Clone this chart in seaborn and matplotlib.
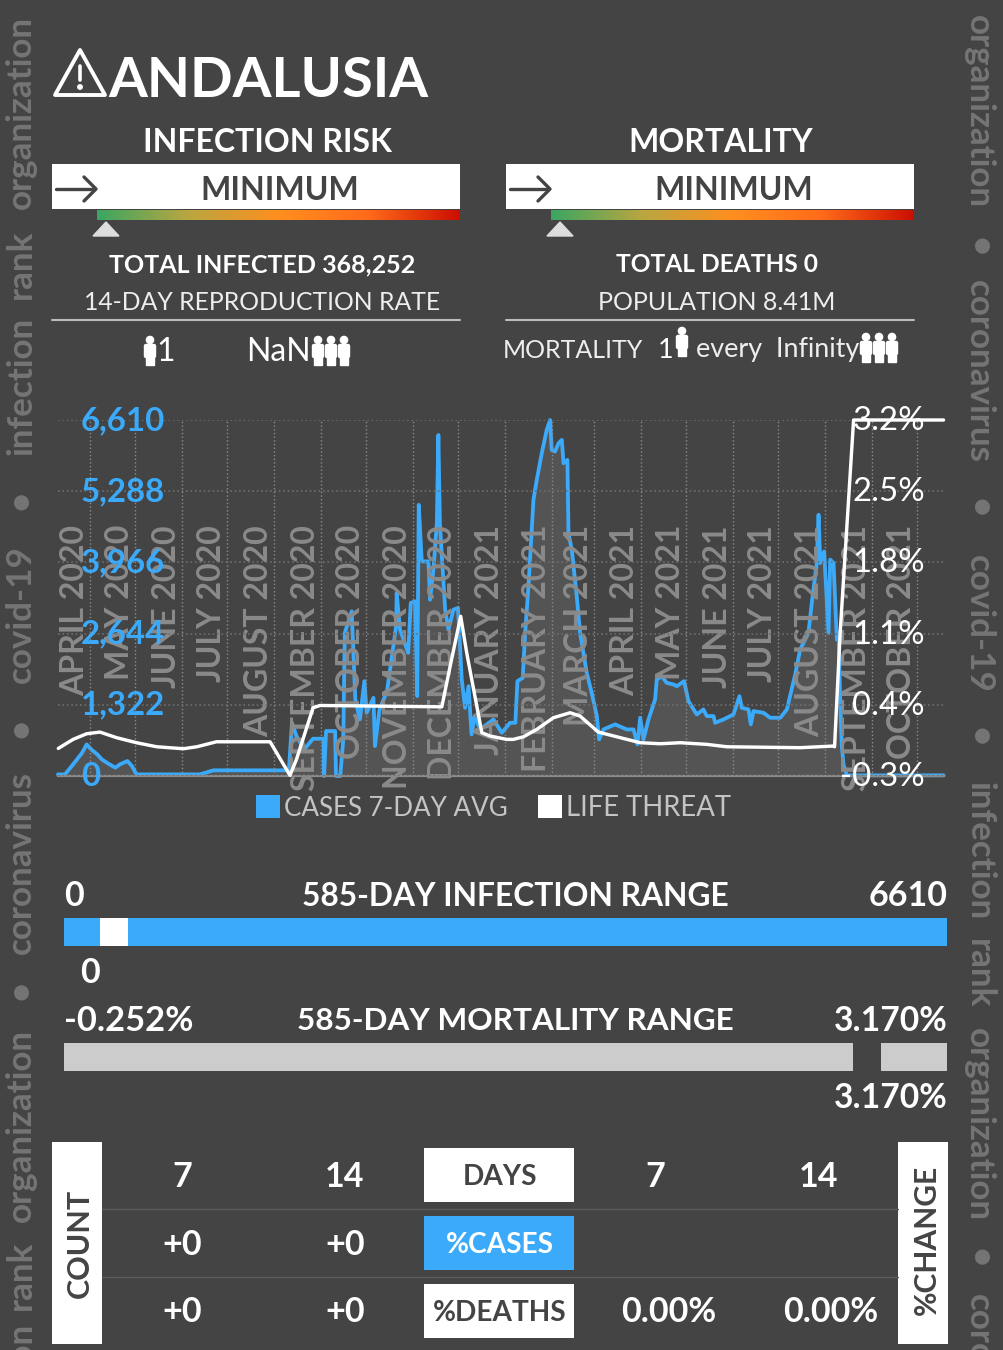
import numpy as np
import pandas as pd
import matplotlib
matplotlib.use("Agg")
import matplotlib.pyplot as plt
from matplotlib.patches import Rectangle, Polygon, Circle, FancyBboxPatch
from matplotlib.colors import LinearSegmentedColormap
from matplotlib.transforms import ScaledTranslation
import seaborn as sns

BG = "#444444"
BLUE = "#3baafa"
FONT = ["Lato", "DejaVu Sans"]

start_date = "2020-03-11"
case_days = [0,4.6,10,16,19,22,26,29,33,38,41,46,49,52,94,103,153,155,158,163,169,176,176.3,177.6,183.6,184.2,187,189,190,194.6,197,200,203,204.5,209,210,213,218,224,224.4,226.6,232,233.7,236.6,238,239,241,245.4,246.5,248.7,251,252,253,256.5,258.7,262,265,267.5,269.7,272,274,276,279.7,288.5,294,299.5,303,304.4,307.9,309.5,311.7,315,317.2,320.5,323.8,326,327.1,329.3,331.6,333.8,334.9,337.5,338.2,340.4,343.7,345.9,350.3,353.6,357,358.5,361.4,369.1,376.8,381.3,383.9,385.7,387.9,391.2,395.6,396.7,400,403.3,407.8,410,414.8,417.7,423.2,427.6,429.9,434.3,435.4,440.9,447.5,451.5,453,457.5,459,460.8,467.4,471.8,478.5,482.9,488.4,491.7,497.2,499.4,502.7,503.9,505,507.6,510.5,511.6,513.8,516,517.1,518.2,519.3,520.4,522.6,586.7]
case_vals = [30,30,216,432,587,494,402,309,235,154,216,278,185,30,30,105,105,988,741,494,692,692,0,834,834,0,0,680,2657,3058,1421,1050,1761,1174,1452,556,1236,1575,2780,3398,2718,2286,3213,3243,1483,5035,3985,3985,3274,3830,4695,6332,4695,3089,2718,3089,3120,1792,1266,1668,772,1112,865,1050,803,988,988,1761,1823,2657,3521,5128,5498,5993,6425,6610,6054,6024,6178,6240,5807,5869,4510,4201,3336,2657,1915,1545,1112,680,865,958,865,865,587,1081,680,1050,1421,1792,1853,1730,1699,1668,1761,1390,1143,1236,1112,1112,988,1050,1143,1483,1266,1236,958,1205,1174,1081,1081,1236,1884,2348,2657,3213,3954,4850,3954,4170,2657,4016,3954,2533,2657,1421,556,216,12,12]
threat_days = [0.2,10,19,27.8,38.9,52,65.4,83,92,105,140.5,153.7,158,169,173.6,254.3,259.8,266.8,270.8,280.8,286.3,297.3,301.7,308.4,317.2,328.2,339.3,345.9,358,370.2,385.7,399,412.2,429.9,443.1,491.7,513.8,514.5,518.2,527.1,586.7]
threat_vals = [0.013,0.100,0.154,0.170,0.116,0.068,0.029,0.010,0.029,0.077,0.077,-0.246,-0.092,0.404,0.426,0.413,0.803,1.283,0.931,0.164,0.132,0.100,0.100,0.125,0.196,0.308,0.356,0.324,0.170,0.125,0.068,0.058,0.068,0.052,0.029,0.020,0.036,0.029,1.123,3.170,3.170]
month_labels = ["APRIL 2020","MAY 2020","JUNE 2020","JULY 2020","AUGUST 2020","SEPTEMBER 2020","OCTOBER 2020","NOVEMBER 2020","DECEMBER 2020","JANUARY 2021","FEBRUARY 2021","MARCH 2021","APRIL 2021","MAY 2021","JUNE 2021","JULY 2021","AUGUST 2021","SEPTEMBER 2021","OCTOBER 2021"]
left_ticks = [0, 1322, 2644, 3966, 5288, 6610]
left_labels = ["0", "1,322", "2,644", "3,966", "5,288", "6,610"]
right_ticks = [-0.252, 0.432, 1.117, 1.801, 2.486, 3.170]
right_labels = ["-0.3%", "0.4%", "1.1%", "1.8%", "2.5%", "3.2%"]

sns.set_theme(style="dark", rc={"axes.facecolor": "none", "figure.facecolor": BG, "savefig.facecolor": BG})
plt.rcParams["font.family"] = FONT

W, H = 1004, 1350
fig = plt.figure(figsize=(W / 100, H / 100), dpi=100)
bg = fig.add_axes([0, 0, 1, 1], zorder=0)
bg.set_xlim(0, W); bg.set_ylim(H, 0); bg.axis("off")


def px(v):
    return v * 0.72


def T(x, y, s, size, color="white", ha="center", weight="bold", rot=0, **kw):
    return bg.text(x, y, s, fontsize=px(size), color=color, ha=ha, va="center",
                   fontweight=weight, rotation=rot, **kw)


def R(x0, y0, x1, y1, color, **kw):
    bg.add_patch(Rectangle((x0, y0), x1 - x0, y1 - y0, facecolor=color, edgecolor="none", **kw))


# side watermarks
WM = "#757575"
for yc, s in [(112, "organization"), (264, "rank"), (386, "infection"), (500, "•"), (614, "covid-19"),
              (728, "•"), (863, "coronavirus"), (990, "•"), (1125, "organization"), (1275, "rank"), (1392, "infection")]:
    T(21, yc, s, 35, WM, rot=90, clip_on=True)
for yc, s in [(112, "organization"), (247, "•"), (371, "coronavirus"), (508, "•"), (624, "covid-19"), (737, "•"),
              (851, "infection"), (974, "rank"), (1125, "organization"), (1258, "•"), (1385, "coronavirus")]:
    T(979, yc, s, 35, WM, rot=270, clip_on=True)

# title
bg.add_patch(Polygon([(80, 50), (105, 95), (55, 95)], closed=True, fill=False, edgecolor="white",
                     linewidth=2.8, joinstyle="round"))
bg.plot([80, 80], [66, 80], color="white", lw=2.6, solid_capstyle="round")
bg.add_patch(Circle((80, 87), 2.2, color="white"))
T(108, 81, "ANDALUSIA", 56, ha="left")

grad = LinearSegmentedColormap.from_list("risk", ["#3aa661", "#b9a640", "#ff8f1f", "#ff6a1a", "#cc0e00"])
g = np.linspace(0, 1, 256).reshape(1, -1)


def risk_panel(x0, cx_head, head, cx_min, mark):
    T(cx_head, 143, head, 32)
    R(x0, 164, x0 + 408, 209, "white")
    bg.plot([x0 + 4, x0 + 42], [189, 189], color="#444444", lw=2.4)
    bg.plot([x0 + 32, x0 + 44, x0 + 32], [177, 189, 201], color="#444444", lw=2.4)
    T(cx_min, 190, "MINIMUM", 32, "#444444")
    bg.imshow(g, cmap=grad, extent=(x0 + 45, x0 + 408, 220, 210), aspect="auto", zorder=1)
    bg.add_patch(Polygon([(mark - 13, 236), (mark, 222), (mark + 13, 236)], closed=True, color="#dddddd"))
    bg.plot([x0, x0 + 408], [320, 320], color="#bbbbbb", lw=1.5)


risk_panel(52, 267, "INFECTION RISK", 280, 106)
risk_panel(506, 721, "MORTALITY", 734, 560)
bg.set_xlim(0, W); bg.set_ylim(H, 0)

T(262, 265, "TOTAL INFECTED 368,252", 25)
T(262, 303, "14-DAY REPRODUCTION RATE", 24.7, "#eeeeee", weight="normal")
T(717, 265, "TOTAL DEATHS 0", 24.5)
T(717, 303, "POPULATION 8.41M", 25, "#eeeeee", weight="normal")


def person(x, y0=337, h=28):
    bg.add_patch(Circle((x, y0 + 3), 3.6, color="white"))
    bg.add_patch(FancyBboxPatch((x - 4, y0 + 9), 8, 10, boxstyle="round,pad=1.5", color="white"))
    bg.add_patch(Rectangle((x - 4, y0 + 17), 8, h - 17, color="white"))


person(150); T(166, 352, "1", 32, weight="normal")
T(278, 352, "NaN", 32, weight="normal")
for xp in (318, 331, 344):
    person(xp)
T(573, 350, "MORTALITY", 25, "#eeeeee", weight="normal")
T(666, 350, "1", 27, weight="normal")
person(682, 328)
T(778, 350, "every  Infinity", 27, "#eeeeee", weight="normal")
for xp in (866, 879, 892):
    person(xp, 334)

# chart
case_x = pd.Timestamp(start_date) + pd.to_timedelta(case_days, unit="D")
threat_x = pd.Timestamp(start_date) + pd.to_timedelta(threat_days, unit="D")
month_ticks = pd.date_range("2020-04-01", periods=len(month_labels), freq="MS")

ax = fig.add_axes([58 / W, 1 - 776 / H, (944 - 58) / W, (776 - 420) / H], zorder=2)
ax.patch.set_alpha(0)
ax.fill_between(case_x, case_vals, 0, color="white", alpha=0.085, linewidth=0)
sns.lineplot(x=case_x, y=case_vals, ax=ax, color=BLUE, linewidth=px(3.8), estimator=None, clip_on=False)
ax.set_xlim(pd.Timestamp(start_date), pd.Timestamp(start_date) + pd.Timedelta(days=587))
ax.set_ylim(0, 6610)
ax.set_xticks(month_ticks)
ax.set_xticklabels(month_labels, rotation=90, ha="right", va="top", fontsize=px(32), color="#8a8a8a", fontweight="bold")
ax.set_yticks(left_ticks)
ax.set_yticklabels(left_labels, ha="left", fontsize=px(33), color=BLUE, fontweight="bold")
ax.tick_params(axis="x", length=0, pad=-px(251))
ax.tick_params(axis="y", length=0, pad=-px(23))
shift = ScaledTranslation(-1 / 100, 0, fig.dpi_scale_trans)
for lab in ax.get_xticklabels():
    lab.set_transform(lab.get_transform() + shift)
up = ScaledTranslation(0, 2 / 100, fig.dpi_scale_trans)
for lab in ax.get_yticklabels():
    lab.set_transform(lab.get_transform() + up)
ax.grid(True, axis="x", color="#8c8c8c", linestyle=":", linewidth=1)
ax.grid(True, axis="y", color="#6e6e6e", linestyle=":", linewidth=1.2)
ax.set_axisbelow(False)
ax.set_xlabel(""); ax.set_ylabel("")
for s in ("top", "left", "right"):
    ax.spines[s].set_visible(False)
ax.spines["bottom"].set_color("#8c8c8c")
ax.spines["bottom"].set_linewidth(1.6)

ax2 = ax.twinx()
ax2.set_zorder(3)
ax2.patch.set_alpha(0)
sns.lineplot(x=threat_x, y=threat_vals, ax=ax2, color="white", linewidth=px(3.4), estimator=None, clip_on=False)
ax2.set_ylim(-0.252, 3.17)
ax2.set_yticks(right_ticks)
ax2.set_yticklabels(right_labels, ha="right", fontsize=px(33), color="white")
ax2.tick_params(axis="y", length=0, pad=-px(19))
for lab in ax2.get_yticklabels():
    lab.set_transform(lab.get_transform() + up)
ax2.grid(False)
ax2.set_ylabel("")
for s in ax2.spines.values():
    s.set_visible(False)

# legend
R(256, 795, 280, 818, BLUE)
T(284, 808, "CASES 7-DAY AVG", 26, "#c4c4c4", ha="left", weight="normal")
R(538, 795, 562, 818, "white")
T(566, 808, "LIFE THREAT", 27.5, "#c4c4c4", ha="left", weight="normal")

# range bars
T(64, 896, "0", 34, ha="left")
T(515, 896, "585-DAY INFECTION RANGE", 31.8)
T(948, 896, "6610", 34, ha="right")
R(64, 918, 947, 946, BLUE)
R(100, 918, 128, 946, "white")
T(90, 973, "0", 34)
T(64, 1021, "-0.252%", 34.5, ha="left")
T(515, 1021, "585-DAY MORTALITY RANGE", 31.5)
T(948, 1021, "3.170%", 33.6, ha="right")
R(64, 1043, 853, 1071, "#cccccc")
R(881, 1043, 947, 1071, "#cccccc")
T(948, 1098, "3.170%", 33.6, ha="right")

# table
R(52, 1142, 102, 1344, "white")
T(80, 1243, "COUNT", 30.5, "#444444", rot=90)
R(898, 1142, 948, 1344, "white")
T(927, 1240, "%CHANGE", 30, "#444444", rot=90)
for yl in (1209, 1277):
    bg.plot([102, 898], [yl, yl], color="#5c5c5c", lw=1)
R(424, 1148, 574, 1202, "white")
T(500, 1177, "DAYS", 28, "#444444")
R(424, 1216, 574, 1270, BLUE)
T(500, 1245, "%CASES", 28, "white")
R(424, 1284, 574, 1338, "white")
T(500, 1313, "%DEATHS", 28, "#444444")
for x, y, s in [(182, 1177, "7"), (345, 1177, "14"), (655, 1177, "7"), (819, 1177, "14"),
                (182, 1245, "+0"), (345, 1245, "+0"), (182, 1312, "+0"), (345, 1312, "+0"),
                (669, 1312, "0.00%"), (831, 1312, "0.00%")]:
    T(x, y, s, 34)

fig.savefig("out.png", dpi=100, facecolor=BG)
